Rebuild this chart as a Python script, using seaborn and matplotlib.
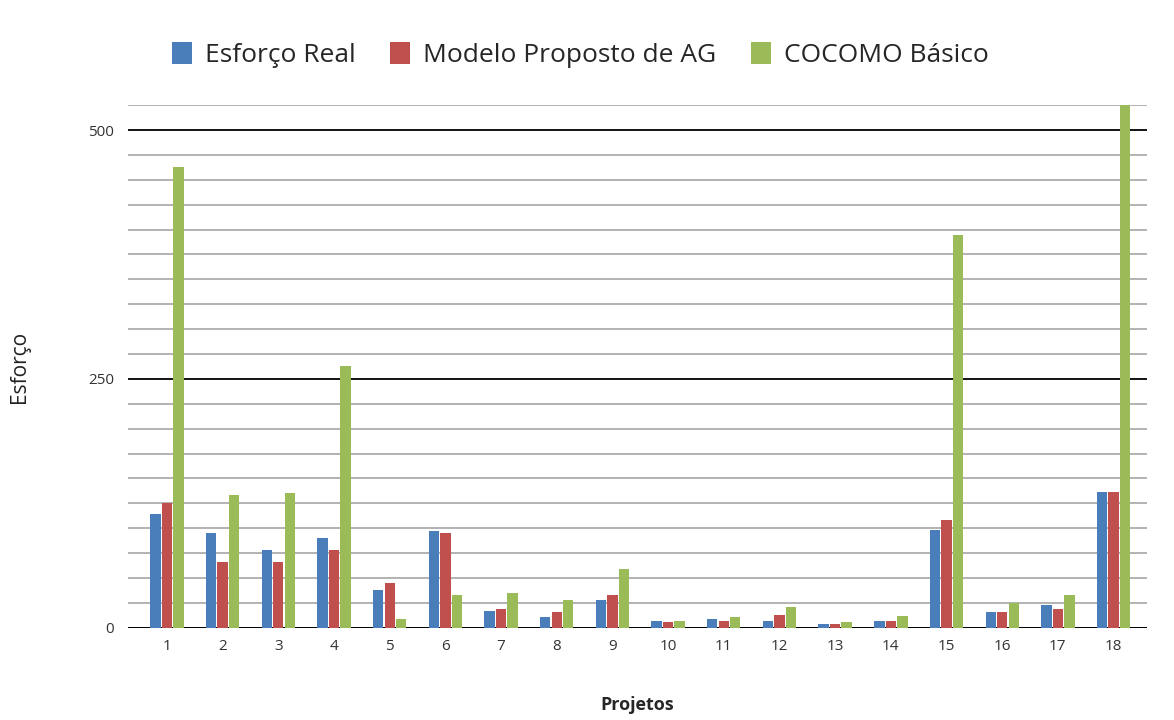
import matplotlib
matplotlib.use('Agg')
import matplotlib.pyplot as plt
import pandas as pd
import seaborn as sns
from matplotlib.ticker import MultipleLocator

# values
projetos = [str(i) for i in range(1, 19)]
esforco_real = [114, 95, 78, 90, 38, 97, 17, 11, 28, 7, 9, 7, 4, 7, 98, 16, 23, 136]
modelo_ag = [125, 66, 66, 78, 45, 95, 19, 16, 33, 6, 7, 13, 4, 7, 108, 16, 19, 136]
cocomo_basico = [463, 133, 135, 263, 9, 33, 35, 28, 59, 7, 11, 21, 6, 12, 395, 25, 33, 525]

series_names = ['Esforço Real', 'Modelo Proposto de AG', 'COCOMO Básico']
colors = ['#4A7EBB', '#C0504D', '#9BBB59']

df = pd.DataFrame({
    'Projeto': projetos * 3,
    'Esforço': esforco_real + modelo_ag + cocomo_basico,
    'Série': [series_names[0]] * 18 + [series_names[1]] * 18 + [series_names[2]] * 18,
})

sns.set_style('white')
plt.rcParams['font.family'] = ['Open Sans', 'DejaVu Sans']

fig = plt.figure(figsize=(11.74, 7.2), dpi=100)
ax = fig.add_axes([0.109, 0.128, 0.868, 0.726])

sns.barplot(data=df, x='Projeto', y='Esforço', hue='Série', palette=colors,
            saturation=1, width=0.62, gap=0.1, linewidth=0, ax=ax, legend=True)

ax.set_ylim(0, 525)
ax.set_xlim(-0.7, 17.6)
ax.yaxis.set_major_locator(MultipleLocator(250))
ax.yaxis.set_minor_locator(MultipleLocator(25))
ax.grid(which='minor', axis='y', color='#A6A6A6', linewidth=1.2)
ax.grid(which='major', axis='y', color='black', linewidth=1.3)
ax.set_axisbelow(True)
for s in ax.spines.values():
    s.set_visible(False)
ax.axhline(0, color='black', linewidth=1.3, zorder=0.5)

ax.tick_params(axis='both', which='both', length=0, labelsize=11, colors='#333333', pad=8)
ax.tick_params(axis='y', pad=10)

ax.set_xlabel('Projetos', fontsize=13, fontweight='bold', labelpad=30)
ax.set_ylabel('Esforço', fontsize=15, labelpad=42, color='#222222')

handles, labels = ax.get_legend_handles_labels()
ax.legend(handles, labels, loc='lower center', bbox_to_anchor=(0.444, 1.025), ncol=3,
          frameon=False, fontsize=19, handlelength=0.75, handleheight=0.9,
          handletextpad=0.5, columnspacing=1.3)

fig.savefig('out.png', dpi=100)
